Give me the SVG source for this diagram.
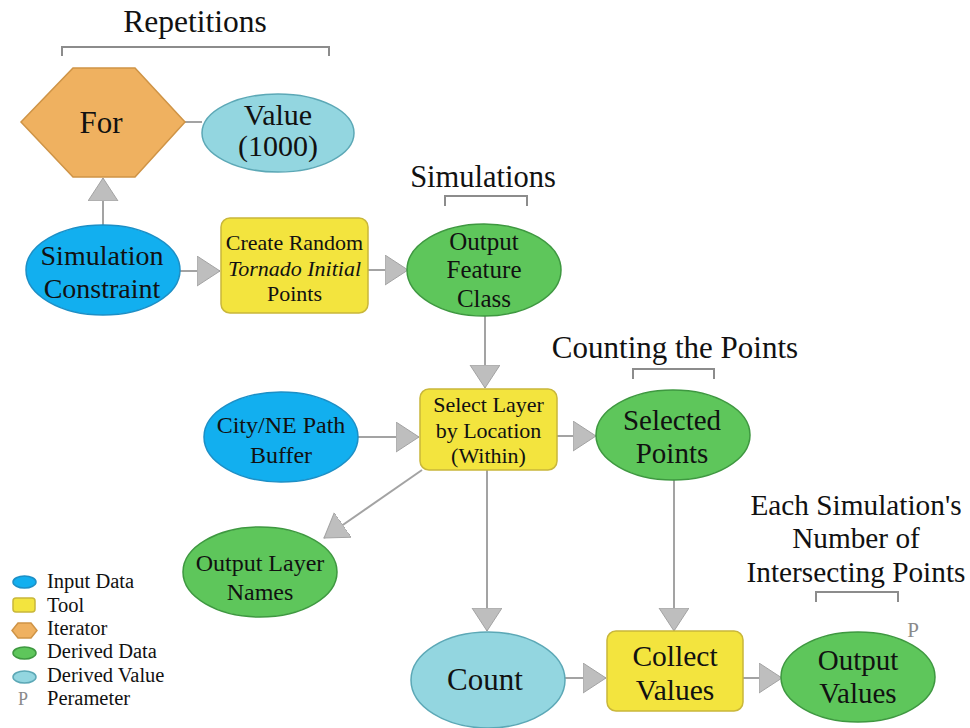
<svg xmlns="http://www.w3.org/2000/svg" width="970" height="728" viewBox="0 0 970 728">
<defs>
<style>
text{font-family:'Liberation Serif',Times,'Times New Roman','DejaVu Serif',serif;fill:#111;text-anchor:middle}
.inp{fill:#12AFEF;stroke:#1C8FC6;stroke-width:1.5}
.tool{fill:#F3E43E;stroke:#C9B73A;stroke-width:1.5}
.iter{fill:#EFB160;stroke:#CF9446;stroke-width:1.5}
.der{fill:#5EC65B;stroke:#3E9840;stroke-width:1.5}
.dval{fill:#93D6E0;stroke:#5CA8B6;stroke-width:1.5}
.con{stroke:#A3A3A3;stroke-width:2;fill:none}
.arr{marker-end:url(#ah)}
.br{stroke:#8C8C8C;stroke-width:2;fill:none}
.lg{text-anchor:start;font-size:20.5px}
</style>
<marker id="ah" markerUnits="userSpaceOnUse" markerWidth="26" markerHeight="32" refX="23" refY="15" orient="auto" viewBox="0 0 26 32">
<path d="M0,0 L23,15 L0,30 Z" fill="#BEBEBE" stroke="#A3A3A3" stroke-width="1"/>
</marker>
</defs>

<g id="annotations">
<text x="195" y="32" font-size="31.5">Repetitions</text>
<path class="br" d="M62,56 V47 H329 V56"/>
<text x="483" y="187" font-size="30.5">Simulations</text>
<path class="br" d="M445,206 V196 H527 V206"/>
<text x="675" y="358" font-size="31">Counting the Points</text>
<path class="br" d="M633,379 V369 H714 V379"/>
<text x="856" y="515" font-size="29.3">Each Simulation's</text>
<text x="856" y="548" font-size="29.3">Number of</text>
<text x="856" y="582" font-size="29.3">Intersecting Points</text>
<path class="br" d="M816,602 V592 H898 V602"/>
</g>

<g id="connectors">
<line class="con" x1="185" y1="122" x2="202" y2="122"/>
<line class="con arr" x1="103" y1="225" x2="103" y2="178"/>
<line class="con arr" x1="180" y1="271" x2="220" y2="271"/>
<line class="con arr" x1="368" y1="270" x2="408" y2="270"/>
<line class="con arr" x1="485" y1="316" x2="485" y2="388"/>
<line class="con arr" x1="358" y1="437" x2="419" y2="437"/>
<line class="con arr" x1="557" y1="436" x2="596" y2="436"/>
<line class="con arr" x1="422" y1="470" x2="324" y2="538"/>
<line class="con arr" x1="487" y1="470" x2="487" y2="631"/>
<line class="con arr" x1="674" y1="480" x2="674" y2="631"/>
<line class="con arr" x1="565" y1="678" x2="606" y2="678"/>
<line class="con arr" x1="743" y1="678" x2="782" y2="678"/>
</g>

<g id="for">
<polygon class="iter" points="21,122 73,68 135,68 185,122 135,177 73,177"/>
<text x="101" y="133" font-size="31">For</text>
</g>
<g id="value1000">
<ellipse class="dval" cx="278" cy="133" rx="76" ry="39"/>
<text x="278" y="125" font-size="30">Value</text>
<text x="278" y="156" font-size="30">(1000)</text>
</g>
<g id="simulation-constraint">
<ellipse class="inp" cx="103" cy="270" rx="77" ry="45"/>
<text x="102" y="265" font-size="28">Simulation</text>
<text x="102" y="298" font-size="28">Constraint</text>
</g>
<g id="create-random">
<rect class="tool" x="221" y="218" width="147" height="95" rx="9"/>
<text x="294.5" y="250" font-size="22">Create Random</text>
<text x="294.5" y="276" font-size="22" font-style="italic">Tornado Initial</text>
<text x="294.5" y="301" font-size="22">Points</text>
</g>
<g id="output-feature-class">
<ellipse class="der" cx="484" cy="270" rx="77" ry="46"/>
<text x="484" y="250" font-size="25">Output</text>
<text x="484" y="278" font-size="25">Feature</text>
<text x="484" y="307" font-size="25">Class</text>
</g>
<g id="city-buffer">
<ellipse class="inp" cx="281" cy="437" rx="77" ry="45"/>
<text x="281" y="433" font-size="24">City/NE Path</text>
<text x="281" y="463" font-size="24">Buffer</text>
</g>
<g id="select-layer">
<rect class="tool" x="420" y="389" width="137" height="81" rx="9"/>
<text x="488.5" y="412" font-size="22">Select Layer</text>
<text x="488.5" y="438" font-size="22">by Location</text>
<text x="488.5" y="463" font-size="22">(Within)</text>
</g>
<g id="selected-points">
<ellipse class="der" cx="673" cy="435" rx="77" ry="45"/>
<text x="672" y="430" font-size="29">Selected</text>
<text x="672" y="463" font-size="29">Points</text>
</g>
<g id="output-layer-names">
<ellipse class="der" cx="260" cy="572" rx="77" ry="45"/>
<text x="260" y="571" font-size="24">Output Layer</text>
<text x="260" y="600" font-size="24">Names</text>
</g>
<g id="count">
<ellipse class="dval" cx="488" cy="680" rx="77" ry="48"/>
<text x="485" y="690" font-size="31">Count</text>
</g>
<g id="collect-values">
<rect class="tool" x="607" y="631" width="136" height="80" rx="9"/>
<text x="675" y="666" font-size="29.5">Collect</text>
<text x="675" y="700" font-size="29.5">Values</text>
</g>
<g id="output-values">
<ellipse class="der" cx="858" cy="677" rx="77" ry="45"/>
<text x="858" y="670" font-size="29">Output</text>
<text x="858" y="703" font-size="29">Values</text>
<text x="913" y="637" font-size="21" style="fill:#8A8A8A">P</text>
</g>

<g id="legend">
<ellipse class="inp" cx="24.5" cy="582" rx="11.5" ry="6"/>
<text class="lg" x="47" y="588">Input Data</text>
<rect class="tool" x="13" y="598" width="22" height="14" rx="3"/>
<text class="lg" x="47" y="612">Tool</text>
<polygon class="iter" points="12,630.5 18,623 31,623 37,630.5 31,638 18,638"/>
<text class="lg" x="47" y="635">Iterator</text>
<ellipse class="der" cx="24.5" cy="653" rx="11.5" ry="6"/>
<text class="lg" x="47" y="658">Derived Data</text>
<ellipse class="dval" cx="24.5" cy="677" rx="11.5" ry="6"/>
<text class="lg" x="47" y="682">Derived Value</text>
<text x="23" y="705" font-size="18" style="fill:#8A8A8A">P</text>
<text class="lg" x="47" y="705">Perameter</text>
</g>
</svg>
